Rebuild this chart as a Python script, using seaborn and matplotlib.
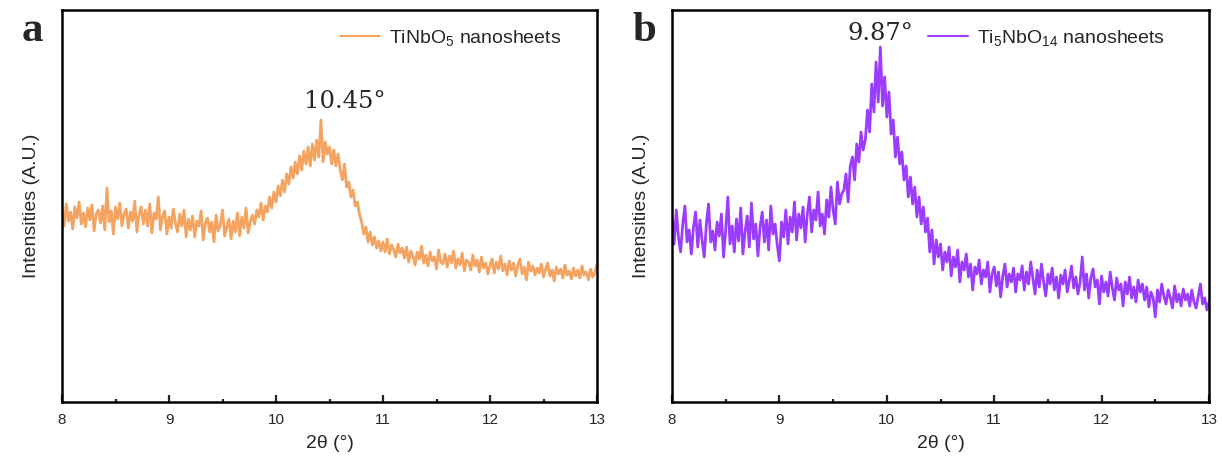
import numpy as np
import pandas as pd
import matplotlib
matplotlib.use("Agg")
import matplotlib.pyplot as plt
import seaborn as sns

# 2-theta grid (degrees), 0.02 step from 8 to 13
two_theta = [round(8 + 0.02 * i, 2) for i in range(251)]

# Panel a: TiNbO5 nanosheets (arbitrary intensity)
tinbo5 = [
    192, 176, 198, 181, 190, 173, 195, 184, 200, 178,
    189, 175, 194, 182, 197, 171, 188, 192, 179, 196,
    172, 214, 180, 191, 168, 195, 183, 199, 176, 188,
    193, 174, 190, 181, 201, 170, 187, 195, 178, 192,
    176, 198, 169, 189, 183, 205, 172, 186, 191, 168,
    185, 174, 193, 179, 170, 188, 176, 192, 165, 183,
    172, 186, 165, 181, 176, 191, 162, 179, 184, 170,
    180, 160, 187, 171, 177, 192, 166, 175, 183, 163,
    181, 170, 189, 166, 185, 174, 194, 169, 180, 187,
    178, 192, 185, 199, 182, 196, 190, 205, 194, 210,
    200, 216, 206, 222, 210, 228, 218, 235, 224, 240,
    228, 246, 232, 251, 238, 255, 236, 258, 242, 262,
    245, 282, 240, 260, 248, 255, 238, 252, 236, 248,
    232, 222, 238, 215, 220, 205, 212, 196, 200, 188,
    180, 168, 175, 160, 170, 157, 165, 154, 161, 151,
    160, 150, 163, 148, 157, 152, 145, 158, 149, 154,
    144, 155, 140, 151, 146, 137, 150, 143, 156, 139,
    147, 136, 150, 141, 145, 133, 152, 140, 138, 148,
    135, 146, 139, 151, 134, 143, 137, 149, 131, 142,
    140, 132, 147, 136, 142, 130, 145, 134, 139, 128,
    137, 143, 129, 140, 133, 146, 131, 138, 127, 141,
    132, 139, 126, 137, 143, 128, 135, 122, 140, 131,
    136, 127, 134, 129, 138, 125, 133, 139, 126, 132,
    121, 135, 128, 133, 124, 137, 127, 131, 123, 134,
    126, 132, 124, 136, 127, 130, 122, 133, 125, 129,
    138,
]

# Panel b: Ti5NbO14 nanosheets
ti5nbo14 = [
    185, 158, 192, 165, 150, 178, 196, 160, 172, 148,
    175, 190, 155, 182, 162, 145, 178, 198, 160, 171,
    152, 180, 166, 188, 145, 172, 205, 158, 176, 150,
    183, 161, 194, 148, 170, 186, 155, 199, 163, 178,
    146, 175, 190, 160, 182, 152, 196, 168, 178, 157,
    141, 180, 165, 192, 158, 185, 170, 200, 162, 188,
    174, 195, 160, 188, 205, 170, 192, 182, 210, 176,
    188, 168, 202, 185, 215, 192, 178, 220, 198, 208,
    212, 228, 200, 236, 245, 222, 258, 240, 270, 252,
    262, 292, 270, 318, 290, 340, 300, 355, 296, 325,
    285, 310, 268, 282, 245, 265, 238, 250, 222, 236,
    205, 225, 198, 215, 185, 205, 178, 195, 170, 184,
    150, 172, 138, 162, 145, 158, 132, 150, 140, 155,
    126, 145, 135, 152, 120, 140, 132, 148, 125, 138,
    112, 135, 128, 142, 118, 132, 125, 140, 110, 128,
    135, 116, 130, 105, 126, 138, 115, 128, 120, 134,
    110, 128, 122, 136, 112, 130, 118, 140, 124, 108,
    132, 115, 138, 120, 106, 128, 118, 134, 112, 125,
    104, 127, 118, 132, 110, 122, 136, 114, 125, 108,
    120, 145, 112, 128, 104, 124, 133, 115, 122, 98,
    126, 110, 120, 106, 130, 114, 102, 124, 112, 118,
    96, 120, 108, 125, 104, 115, 100, 122, 110, 118,
    102, 115, 95, 110, 104, 85, 112, 100, 118, 106,
    98, 112, 104, 94, 116, 100, 108, 96, 113, 102,
    108, 96, 112, 100, 94, 106, 118, 98, 104, 92,
    100,
]

x_ticks = [8, 9, 10, 11, 12, 13]
labels = ["TiNbO$_5$ nanosheets", "Ti$_5$NbO$_{14}$ nanosheets"]
peak_labels = ["10.45°", "9.87°"]
peak_pos = [(10.64, 301), (9.94, 369)]
panel_letters = ["a", "b"]
colors = ["#F4A460", "#9B3CFF"]

sns.set_style("ticks")
plt.rcParams["font.family"] = ["Liberation Sans", "DejaVu Sans"]
plt.rcParams["mathtext.default"] = "regular"

fig = plt.figure(figsize=(12.22, 4.61), dpi=100)
ax_a = fig.add_axes([62 / 1222, 59 / 461, 535 / 1222, 392 / 461])
ax_b = fig.add_axes([672 / 1222, 59 / 461, 537 / 1222, 392 / 461])

series = [tinbo5, ti5nbo14]
legend_anchor = [(0.965, 1.0), (0.95, 1.0)]
for i, ax in enumerate([ax_a, ax_b]):
    df = pd.DataFrame({"2theta": two_theta, "I": series[i]})
    sns.lineplot(data=df, x="2theta", y="I", ax=ax, color=colors[i],
                 linewidth=2.0, label=labels[i])
    ax.set_xlim(8, 13)
    ax.set_ylim(0, 392)
    ax.set_xticks(x_ticks)
    ax.set_xticks(np.arange(8.5, 13, 1.0), minor=True)
    ax.set_yticks([])
    ax.tick_params(axis="x", which="major", direction="in", length=5, width=1.6,
                   labelsize=11, pad=8)
    ax.tick_params(axis="x", which="minor", direction="in", length=2.5, width=1.6)
    for s in ax.spines.values():
        s.set_linewidth(1.8)
        s.set_color("black")
    ax.set_xlabel("2θ (°)", fontsize=14, labelpad=6)
    ax.set_ylabel("Intensities (A.U.)", fontsize=14, labelpad=16)
    leg = ax.legend(loc="upper right", bbox_to_anchor=legend_anchor[i], frameon=False,
                    fontsize=14, handlelength=2.05, handletextpad=0.45)
    for ln in leg.get_lines():
        ln.set_linewidth(1.5)
    ax.text(peak_pos[i][0], peak_pos[i][1], peak_labels[i], ha="center", va="center",
            fontsize=17.5, family="DejaVu Serif")

fig.text(22 / 1222, 1 - 31 / 461, "a", fontsize=31, fontweight="bold",
         family="Liberation Serif", ha="left", va="center")
fig.text(632 / 1222, 1 - 31 / 461, "b", fontsize=31, fontweight="bold",
         family="Liberation Serif", ha="left", va="center")

fig.savefig("out.png", dpi=100)
